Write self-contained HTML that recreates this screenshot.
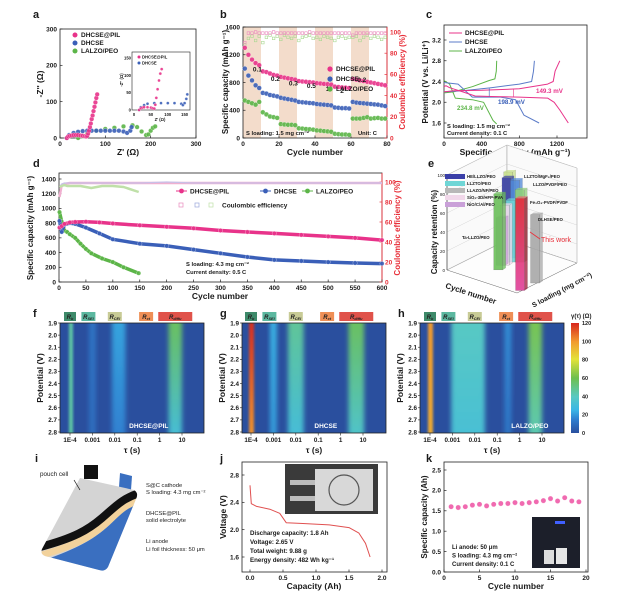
<!DOCTYPE html>
<html><head><meta charset="utf-8">
<style>
html,body{margin:0;padding:0;background:#fff;}
svg{display:block;font-family:"Liberation Sans",Arial,sans-serif;}
</style></head>
<body>
<svg id="fig" width="626" height="595" viewBox="0 0 626 595">
<defs>
<filter id="blur3" x="-50%" y="-20%" width="200%" height="140%"><feGaussianBlur stdDeviation="2.5"/></filter>
<filter id="blur1" x="-50%" y="-20%" width="200%" height="140%"><feGaussianBlur stdDeviation="1.2"/></filter>
<clipPath id="clipF"><rect x="60" y="323" width="144" height="110"/></clipPath>
<clipPath id="clipG"><rect x="242" y="323" width="142" height="110"/></clipPath>
<clipPath id="clipH"><rect x="420" y="323" width="144" height="110"/></clipPath>
<clipPath id="clipBody"><path d="M80,478 L134,490 Q139,493 136,499 L108,567 Q105,572 99,570 L45,556 Q40,554 42,549 Z"/></clipPath>
<linearGradient id="cbar" x1="0" y1="1" x2="0" y2="0">
<stop offset="0" stop-color="#2a4f9e"/><stop offset="0.125" stop-color="#2f7fd0"/><stop offset="0.21" stop-color="#3bb6e6"/><stop offset="0.33" stop-color="#58c9c2"/><stop offset="0.5" stop-color="#6ebf4e"/><stop offset="0.67" stop-color="#e3e23a"/><stop offset="0.83" stop-color="#f29a2e"/><stop offset="1" stop-color="#d7261e"/>
</linearGradient>
<linearGradient id="thisWork" x1="0" y1="0" x2="0" y2="1"><stop offset="0" stop-color="#e8263a"/><stop offset="1" stop-color="#e0409a"/></linearGradient>
</defs>
</svg>
<script>
// ---------- DATA ----------
// panel a (Nyquist)
const aPilRe = [15,18,22,26,30,35,40,45,50,55,58,60,62,64,66,68,70,72,74,76,78,80,82];
const aPilIm = [0,4,6,7,8,8,8,7,6,5,4,6,12,20,30,40,52,62,74,86,98,110,120];
const aDhRe = [15,20,30,40,50,60,70,80,90,100,110,120,130,140,148,155,158];
const aDhIm = [0,8,14,17,19,20,20,20,20,20,20,20,20,18,14,20,30];
const aLaRe = [40,50,60,80,100,120,140,160,170,180,190,195,200,205,210];
const aLaIm = [0,5,12,20,25,28,32,35,30,18,8,10,20,28,32];
const aInPilRe = [15,20,25,30,40,50,55,60,63,66,70,74,78,82];
const aInPilIm = [0,5,7,8,8,7,5,4,15,35,60,85,105,118];
const aInDhRe = [15,20,30,40,60,80,100,120,140,145,150,155,158];
const aInDhIm = [0,8,14,18,20,20,20,20,18,14,20,32,45];
const aTicks = [0,100,200,300];
const aInTicksX = [0,50,100,150];
const aInTicksY = [0,50,100,150];
// panel b (rate) - every other cycle
const bCycles = [1,3,5,7,9,11,13,15,17,19,21,23,25,27,29,31,33,35,37,39,41,43,45,47,49,51,53,55,57,59,61,63,65,67,69,71,73,75,77,79];
const bPil = [1300,1200,1130,1080,1050,960,950,930,910,900,880,870,860,850,840,820,815,810,805,800,790,785,780,775,770,740,735,730,725,720,850,840,830,820,810,800,790,780,770,760];
const bDh = [1000,900,830,760,720,650,640,620,610,600,580,570,560,550,540,520,515,510,505,500,490,485,480,475,470,440,435,430,430,425,520,510,505,500,495,490,485,480,470,460];
const bLa = [540,520,500,480,520,370,340,310,300,290,200,195,190,190,185,140,135,130,125,120,110,105,100,95,90,60,55,50,50,45,280,280,280,290,300,280,285,290,280,280];
const bCePil = [90,99,99,100,99,99,99,99,100,99,99,99,99,99,99,99,99,99,100,99,99,99,99,99,99,99,99,99,99,99,97,99,99,99,99,99,99,99,99,99];
const bCeLa = [88,94,96,92,96,90,95,97,94,96,93,97,95,94,96,92,95,96,97,94,95,93,96,95,94,92,95,96,94,95,95,96,92,95,97,94,96,95,93,95];
const bRates = ['0.1','0.2','0.3','0.5','1','2','0.2'];
const bRateCyc = [8,18,28,38,47,55,66];
const bRateCap = [960,820,760,720,680,650,810];
const bShade = [0,20,40,60];
const bTicksX = [0,20,40,60,80];
const bTicksY = [0,400,800,1200,1600];
const bTicksYr = [0,20,40,60,80,100];
// panel c (voltage profiles)
const cPilDisQ = [0,20,60,200,330,500,800,1100,1170,1230,1320];
const cPilDisV = [2.3,2.32,2.28,2.2,2.12,2.11,2.1,2.08,2.0,1.85,1.6];
const cPilChQ = [0,100,400,800,1100,1160,1180,1230];
const cPilChV = [2.2,2.22,2.23,2.26,2.35,2.4,2.6,2.8];
const cDhDisQ = [0,150,300,600,760,850,1010];
const cDhDisV = [2.38,2.35,2.1,2.1,2.05,1.75,1.6];
const cDhChQ = [0,200,500,800,930,950,960];
const cDhChV = [2.2,2.22,2.28,2.35,2.4,2.6,2.8];
const cLaDisQ = [0,60,120,300,420,520,560];
const cLaDisV = [2.42,2.35,2.08,2.05,2.0,1.65,1.58];
const cLaChQ = [0,100,300,480,540,555,560];
const cLaChV = [2.18,2.2,2.3,2.42,2.45,2.6,2.8];
const cTicksX = [0,400,800,1200];
const cTicksY = [1.6,2.0,2.4,2.8,3.2];
// panel d (long cycling)
const dCyc = [1,5,10,20,30,50,75,100,150,200,250,300,350,400,450,500,550,600];
const dPil = [740,760,790,810,815,820,810,795,770,750,730,700,680,660,640,620,600,570];
const dDh = [830,680,780,800,790,740,660,580,520,490,440,390,340,300,285,270,258,250];
const dCePil = [85,97,98,99,99,99,99,99,99,99,99,99,99,99,99,99,99,99];
const dCeDh = [95,98,99,99,99,99,99,99,99,100,99,99,99,99,99,99,99,99];
const dLaCyc = [1,5,10,15,20,30,40,50,60,80,100,120,148];
const dLa = [950,820,700,680,650,600,520,450,390,320,270,200,120];
const dCeLa = [95,96,97,96,96,96,96,95,94,96,96,95,90];
const dTicksX = [0,50,100,150,200,250,300,350,400,450,500,550,600];
const dTicksY = [0,200,400,600,800,1000,1200,1400];
const dTicksYr = [0,20,40,60,80,100];
// panel e (3D bars)
const eNames = ['Ta-LLZO/PEO','NiO/C/Al/PEO','SiO2-3D/HFP-PVA','LLZTO/PEO','HE/LLZO/PEO','LLZO/PVDF/PEO','LLZTO/MgF2/PEO','Fe3O4-PVDF/PVDF','DLHSE/PEO','This work'];
const eCycles = [672,744,703,708,900,744,984,612,20,20];
const eLoading = [3.4,4.5,4.8,5.8,7.0,6.9,8.1,6.4,3.2,0.7];
const eRetention = [80,50,63,65,81,82,82,76,72,97];
const eTicks = [0,20,40,60,80,100];
// panels f,g,h (DRT heatmaps): band centre tau, width (decades), value at 1.9 V and 2.8 V
const fTau = [1.1e-4,1e-3,1.5e-2,5]; const fWid = [0.18,0.3,0.6,0.6]; const fTop = [45,12,22,58]; const fBot = [45,10,15,30];
const gTau = [1.05e-4,1e-3,1e-2,5]; const gWid = [0.22,0.3,0.7,0.7]; const gTop = [120,25,48,58]; const gBot = [100,20,30,35];
const hTau = [1.05e-4,5e-3,0.3,5]; const hWid = [0.22,1.5,0.3,0.6]; const hTop = [100,40,18,62]; const hBot = [95,32,12,42];
const hmTicksY = [1.9,2.0,2.1,2.2,2.3,2.4,2.5,2.6,2.7,2.8];
const hmTicksX = [1e-4,1e-3,1e-2,0.1,1,10];
const hmTickLabels = ['1E-4','0.001','0.01','0.1','1','10'];
const cbTicks = [0,20,40,60,80,100,120];
// panel j
const jCap = [0,0.02,0.1,0.3,0.45,0.55,0.8,1.2,1.5,1.65,1.75,1.82];
const jVolt = [2.65,2.38,2.34,2.3,2.24,2.1,2.09,2.07,2.03,1.95,1.8,1.6];
const jTicksX = [0,0.5,1.0,1.5,2.0];
const jTicksY = [1.6,2.0,2.4,2.8];
// panel k
const kCycle = [1,2,3,4,5,6,7,8,9,10,11,12,13,14,15,16,17,18,19];
const kCap = [1.6,1.58,1.6,1.64,1.66,1.62,1.66,1.68,1.68,1.7,1.68,1.7,1.72,1.75,1.8,1.74,1.82,1.74,1.72];
const kTicksX = [0,5,10,15,20];
const kTicksY = [0,0.5,1.0,1.5,2.0,2.5];

// ---------- HELPERS ----------
const NS = 'http://www.w3.org/2000/svg';
const svg = document.getElementById('fig');
const PINK = '#e8338a', BLUE = '#3a5fb8', GREEN = '#5cb548', RED = '#e8303a';
function mk(tag, attrs, name, parent) {
  const e = document.createElementNS(NS, tag);
  for (const k in attrs) e.setAttribute(k, attrs[k]);
  
  
  (parent || svg).appendChild(e);
  return e;
}
function txt(x, y, s, size, name, o) {
  o = o || {};
  const a = {x: x, y: y, 'font-size': size, 'font-weight': o.w || 'bold', fill: o.fill || '#1a1a1a', 'text-anchor': o.anchor || 'middle'};
  if (o.rot) a.transform = 'rotate(-90 ' + x + ' ' + y + ')';
  if (o.style) a['font-style'] = o.style;
  const e = mk('text', a, name, o.parent);
  e.textContent = s;
  return e;
}
function lin(d0, d1, r0, r1) { return v => r0 + (v - d0) / (d1 - d0) * (r1 - r0); }
function frame(x0, y0, x1, y1, name) {
  mk('rect', {x: x0, y: y0, width: x1 - x0, height: y1 - y0, fill: 'none', stroke: '#222', 'stroke-width': 0.8}, name);
}
function xTicks(ticks, X, y, name, fs, labels) {
  ticks.forEach((t, i) => {
    mk('line', {x1: X(t), x2: X(t), y1: y, y2: y - 2.5, stroke: '#222', 'stroke-width': 0.7}, name + '-tick');
    txt(X(t), y + 8, labels ? labels[i] : String(t), fs || 6.5, name + '-label');
  });
}
function yTicks(ticks, Y, x, name, fs, dir, fill, fmt) {
  ticks.forEach(t => {
    mk('line', {x1: x, x2: x + (dir || 1) * 2.5, y1: Y(t), y2: Y(t), stroke: fill || '#222', 'stroke-width': 0.7}, name + '-tick');
    txt(x - (dir || 1) * 3, Y(t) + 2.3, fmt ? fmt(t) : String(t), fs || 6.5, name + '-label', {anchor: (dir || 1) > 0 ? 'end' : 'start', fill: fill});
  });
}
function polyline(xs, ys, X, Y, color, w, name) {
  const pts = xs.map((v, i) => X(v).toFixed(1) + ',' + Y(ys[i]).toFixed(1)).join(' ');
  return mk('polyline', {points: pts, fill: 'none', stroke: color, 'stroke-width': w, 'stroke-linejoin': 'round'}, name);
}
function dots(xs, ys, X, Y, color, r, name) {
  xs.forEach((v, i) => {
    mk('circle', {cx: X(v).toFixed(1), cy: Y(ys[i]).toFixed(1), r: r, fill: color, stroke: '#fff', 'stroke-width': 0.3, opacity: 0.9}, name);
  });
}
function squares(xs, ys, X, Y, color, s, name) {
  xs.forEach((v, i) => {
    mk('rect', {x: (X(v) - s / 2).toFixed(1), y: (Y(ys[i]) - s / 2).toFixed(1), width: s, height: s, fill: 'none', stroke: color, 'stroke-width': 0.6}, name);
  });
}
function letter(x, y, s) { txt(x, y, s, 11, 'panel-letter-' + s, {anchor: 'start'}); }

// ---------- PANEL A ----------
letter(33, 18, 'a');
{
  const X = lin(0, 300, 60, 196), Y = lin(0, 300, 138, 29);
  frame(60, 29, 196, 138, 'panel-a-frame');
  xTicks(aTicks, X, 138, 'a-x');
  yTicks(aTicks, Y, 60, 'a-y');
  txt(128, 155, "Z' (Ω)", 8.5, 'a-x-title');
  txt(43, 84, "-Z'' (Ω)", 8.5, 'a-y-title', {rot: true});
  dots(aLaRe, aLaIm, X, Y, GREEN, 2.3, 'a-lalzo-point');
  dots(aDhRe, aDhIm, X, Y, BLUE, 2.3, 'a-dhcse-point');
  dots(aPilRe, aPilIm, X, Y, PINK, 2.3, 'a-pil-point');
  [['DHCSE@PIL', PINK, 37], ['DHCSE', BLUE, 45], ['LALZO/PEO', GREEN, 53]].forEach(l => {
    mk('circle', {cx: 75, cy: l[2] - 2, r: 2.5, fill: l[1]}, 'a-legend-marker');
    txt(81, l[2], l[0], 6.5, 'a-legend-entry', {anchor: 'start'});
  });
  // inset
  const IX = lin(0, 160, 134, 188), IY = lin(0, 150, 110, 58);
  mk('rect', {x: 132, y: 52, width: 58, height: 58, fill: '#fff', stroke: '#222', 'stroke-width': 0.6}, 'a-inset-frame');
  aInTicksX.forEach(t => txt(IX(t), 116, String(t), 4.2, 'a-inset-x-label'));
  aInTicksY.forEach(t => txt(131, IY(t) + 1.5, String(t), 4.2, 'a-inset-y-label', {anchor: 'end'}));
  txt(160, 121, "Z' (Ω)", 4.2, 'a-inset-x-title');
  txt(123, 80, "-Z'' (Ω)", 4.2, 'a-inset-y-title', {rot: true});
  dots(aInDhRe, aInDhIm, IX, IY, BLUE, 1.5, 'a-inset-dhcse-point');
  dots(aInPilRe, aInPilIm, IX, IY, PINK, 1.5, 'a-inset-pil-point');
  mk('circle', {cx: 139, cy: 57, r: 1.5, fill: PINK}, 'a-inset-legend-marker');
  txt(142, 58.5, 'DHCSE@PIL', 4.2, 'a-inset-legend-entry', {anchor: 'start'});
  mk('circle', {cx: 139, cy: 63, r: 1.5, fill: BLUE}, 'a-inset-legend-marker');
  txt(142, 64.5, 'DHCSE', 4.2, 'a-inset-legend-entry', {anchor: 'start'});
}

// ---------- PANEL B ----------
letter(220, 18, 'b');
{
  const X = lin(0, 80, 243, 387), Y = lin(0, 1600, 138, 27), YR = lin(0, 100, 138, 32);
  bShade.forEach(s => mk('rect', {x: X(s), y: 27, width: X(s + 10) - X(s), height: 111, fill: '#f3dccb'}, 'b-rate-shade'));
  frame(243, 27, 387, 138, 'panel-b-frame');
  mk('line', {x1: 387, x2: 387, y1: 27, y2: 138, stroke: RED, 'stroke-width': 0.9}, 'b-right-axis');
  xTicks(bTicksX, X, 138, 'b-x');
  yTicks(bTicksY, Y, 243, 'b-y');
  yTicks(bTicksYr, YR, 387, 'b-yr', 6.5, -1, RED);
  txt(315, 155, 'Cycle number', 8.5, 'b-x-title');
  txt(228, 82, 'Specific capacity (mAh g⁻¹)', 8, 'b-y-title', {rot: true});
  txt(405, 82, 'Coulombic efficiency (%)', 8, 'b-yr-title', {rot: true, fill: RED});
  squares(bCycles, bCeLa, X, YR, '#a8d890', 2.6, 'b-ce-lalzo');
  squares(bCycles, bCePil, X, YR, '#e98abd', 2.6, 'b-ce-pil');
  dots(bCycles, bLa, X, Y, GREEN, 2.4, 'b-lalzo-point');
  dots(bCycles, bDh, X, Y, BLUE, 2.4, 'b-dhcse-point');
  dots(bCycles, bPil, X, Y, PINK, 2.4, 'b-pil-point');
  bRates.forEach((r, i) => txt(X(bRateCyc[i]), Y(bRateCap[i]), r, 6.5, 'b-rate-label'));
  [['DHCSE@PIL', PINK, 71], ['DHCSE', BLUE, 81], ['LALZO/PEO', GREEN, 91]].forEach(l => {
    mk('circle', {cx: 330, cy: l[2] - 2, r: 2.6, fill: l[1]}, 'b-legend-marker');
    txt(336, l[2], l[0], 6.5, 'b-legend-entry', {anchor: 'start'});
  });
  txt(246, 135, 'S loading: 1.5 mg cm⁻²', 5.8, 'b-annotation', {anchor: 'start'});
  txt(358, 135, 'Unit: C', 5.8, 'b-unit-annotation', {anchor: 'start'});
}

// ---------- PANEL C ----------
letter(426, 18, 'c');
{
  const X = lin(0, 1200, 444, 557), Y = lin(1.6, 3.2, 123, 40);
  frame(444, 25, 587, 138, 'panel-c-frame');
  xTicks(cTicksX, X, 138, 'c-x');
  yTicks(cTicksY, Y, 444, 'c-y', 6.5, 1, null, t => t.toFixed(1));
  txt(515, 155, 'Specific capacity (mAh g⁻¹)', 8.5, 'c-x-title');
  txt(428, 82, 'Potential (V vs. Li/Li⁺)', 8, 'c-y-title', {rot: true});
  polyline(cLaDisQ, cLaDisV, X, Y, GREEN, 1, 'c-lalzo-discharge');
  polyline(cLaChQ, cLaChV, X, Y, GREEN, 1, 'c-lalzo-charge');
  polyline(cDhDisQ, cDhDisV, X, Y, '#5b7bc8', 1, 'c-dhcse-discharge');
  polyline(cDhChQ, cDhChV, X, Y, '#5b7bc8', 1, 'c-dhcse-charge');
  polyline(cPilDisQ, cPilDisV, X, Y, PINK, 1, 'c-pil-discharge');
  polyline(cPilChQ, cPilChV, X, Y, PINK, 1, 'c-pil-charge');
  mk('line', {x1: X(480), x2: X(480), y1: Y(2.27), y2: Y(2.11), stroke: BLUE, 'stroke-width': 0.6}, 'c-dhcse-gap-arrow');
  mk('line', {x1: X(740), x2: X(740), y1: Y(2.25), y2: Y(2.1), stroke: PINK, 'stroke-width': 0.6}, 'c-pil-gap-arrow');
  [['DHCSE@PIL', PINK, 35], ['DHCSE', '#5b7bc8', 44], ['LALZO/PEO', GREEN, 53]].forEach(l => {
    mk('line', {x1: 449, x2: 462, y1: l[2] - 2, y2: l[2] - 2, stroke: l[1], 'stroke-width': 1}, 'c-legend-line');
    txt(465, l[2], l[0], 6.5, 'c-legend-entry', {anchor: 'start'});
  });
  txt(536, 93, '149.3 mV', 6.2, 'c-pil-gap-label', {anchor: 'start', fill: PINK});
  txt(498, 104, '198.9 mV', 6.2, 'c-dhcse-gap-label', {anchor: 'start', fill: BLUE});
  txt(457, 110, '234.8 mV', 6.2, 'c-lalzo-gap-label', {anchor: 'start', fill: GREEN});
  txt(447, 128, 'S loading: 1.5 mg cm⁻²', 5.8, 'c-annotation', {anchor: 'start'});
  txt(447, 135, 'Current density: 0.1 C', 5.8, 'c-annotation', {anchor: 'start'});
}

// ---------- PANEL D ----------
letter(33, 167, 'd');
{
  const X = lin(0, 600, 59, 382), Y = lin(0, 1400, 282, 179), YR = lin(0, 100, 282, 182);
  frame(59, 173, 382, 282, 'panel-d-frame');
  mk('line', {x1: 382, x2: 382, y1: 173, y2: 282, stroke: RED, 'stroke-width': 0.9}, 'd-right-axis');
  xTicks(dTicksX, X, 282, 'd-x');
  yTicks(dTicksY, Y, 59, 'd-y');
  yTicks(dTicksYr, YR, 382, 'd-yr', 6.5, -1, RED);
  txt(220, 299, 'Cycle number', 8.5, 'd-x-title');
  txt(33, 228, 'Specific capacity (mAh g⁻¹)', 8, 'd-y-title', {rot: true});
  txt(400, 228, 'Coulombic efficiency (%)', 8, 'd-yr-title', {rot: true, fill: RED});
  polyline(dCyc, dCePil, X, YR, '#f0b0d0', 2.5, 'd-ce-pil');
  polyline(dCyc, dCeDh, X, YR, '#c8c0e8', 1.2, 'd-ce-dhcse');
  polyline(dLaCyc, dCeLa, X, YR, '#bfe0a8', 2.5, 'd-ce-lalzo');
  polyline(dLaCyc, dLa, X, Y, GREEN, 3.5, 'd-lalzo-line');
  dots(dLaCyc, dLa, X, Y, GREEN, 2.2, 'd-lalzo-point');
  polyline(dCyc, dDh, X, Y, BLUE, 3.5, 'd-dhcse-line');
  dots(dCyc, dDh, X, Y, BLUE, 2.2, 'd-dhcse-point');
  polyline(dCyc, dPil, X, Y, PINK, 3.5, 'd-pil-line');
  dots(dCyc, dPil, X, Y, PINK, 2.2, 'd-pil-point');
  [['DHCSE@PIL', PINK, 176], ['DHCSE', BLUE, 260], ['LALZO/PEO', GREEN, 302]].forEach(l => {
    mk('line', {x1: l[2], x2: l[2] + 11, y1: 191, y2: 191, stroke: l[1], 'stroke-width': 1}, 'd-legend-line');
    mk('circle', {cx: l[2] + 5.5, cy: 191, r: 2.4, fill: l[1]}, 'd-legend-marker');
    txt(l[2] + 14, 193.5, l[0], 6.5, 'd-legend-entry', {anchor: 'start'});
  });
  [['#e98abd', 181], ['#9aa6dc', 197], ['#bfe0a8', 211]].forEach(l => {
    mk('rect', {x: l[1] - 2, y: 203, width: 4, height: 4, fill: 'none', stroke: l[0], 'stroke-width': 0.7}, 'd-ce-legend-marker');
  });
  txt(222, 207.5, 'Coulombic efficiency', 6.5, 'd-ce-legend-entry', {anchor: 'start'});
  txt(186, 266, 'S loading: 4.3 mg cm⁻²', 5.8, 'd-annotation', {anchor: 'start'});
  txt(186, 274, 'Current density: 0.5 C', 5.8, 'd-annotation', {anchor: 'start'});
}

// ---------- PANEL E ----------
letter(428, 167, 'e');
{
  const F = [517, 293], L = [447, 270], R = [577, 263];
  const P = (c, l, r) => [F[0] + (L[0] - F[0]) * c / 1200 + (R[0] - F[0]) * l / 10, F[1] + (L[1] - F[1]) * c / 1200 + (R[1] - F[1]) * l / 10 - 0.95 * r];
  const B = P(1200, 10, 0), Bt = P(1200, 10, 100), Lt = P(1200, 0, 100), Rt = P(0, 10, 100);
  mk('polygon', {points: [L, B, Bt, Lt].map(p => p.join(',')).join(' '), fill: '#fafafa', stroke: '#999', 'stroke-width': 0.5}, 'e-left-wall');
  mk('polygon', {points: [B, R, Rt, Bt].map(p => p.join(',')).join(' '), fill: '#fafafa', stroke: '#999', 'stroke-width': 0.5}, 'e-right-wall');
  mk('polygon', {points: [L, B, R, F].map(p => p.join(',')).join(' '), fill: '#fdfdfd', stroke: '#666', 'stroke-width': 0.5}, 'e-floor');
  eTicks.forEach(t => {
    const a = P(1200, 0, t), b = P(1200, 10, t), c = P(0, 10, t);
    mk('polyline', {points: [a, b, c].map(p => p.join(',')).join(' '), fill: 'none', stroke: '#ccc', 'stroke-width': 0.4}, 'e-gridline');
    txt(a[0] - 2, a[1] + 2, String(t), 4.5, 'e-y-label', {anchor: 'end', w: 'normal'});
  });
  mk('line', {x1: L[0], y1: L[1], x2: Lt[0], y2: Lt[1], stroke: '#333', 'stroke-width': 0.6}, 'e-y-axis');
  txt(437, 232, 'Capacity retention (%)', 8, 'e-y-title', {rot: true});
  txt(470, 296, 'Cycle number', 8, 'e-x-title', {w: 'bold'}).setAttribute('transform', 'rotate(18 470 296)');
  txt(563, 292, 'S loading (mg cm⁻²)', 7, 'e-z-title').setAttribute('transform', 'rotate(-28 563 292)');
  const cols = ['#6bbf5a', '#c9a0d8', '#f1d8ea', '#6fd6d6', '#3a3fa8', '#4f87d8', '#c8e08a', '#8fcf7a', '#a8a8a8', 'url(#thisWork)'];
  const order = eNames.map((n, i) => i).sort((i, j) => P(eCycles[i], eLoading[i], 0)[1] - P(eCycles[j], eLoading[j], 0)[1]);
  order.forEach(i => {
    const b = P(eCycles[i], eLoading[i], 0), t = P(eCycles[i], eLoading[i], eRetention[i]);
    const w = 9, x = b[0] - 4.5;
    mk('polygon', {points: `${x + w},${b[1]} ${x + w + 3},${b[1] - 2} ${x + w + 3},${t[1] - 2} ${x + w},${t[1]}`, fill: i === 9 ? '#a01838' : cols[i], opacity: 0.75, stroke: '#666', 'stroke-width': 0.2}, 'e-bar-side');
    mk('rect', {x: x, y: t[1], width: w, height: b[1] - t[1], fill: cols[i], opacity: 0.9, stroke: '#555', 'stroke-width': 0.2}, 'e-bar');
    mk('polygon', {points: `${x},${t[1]} ${x + w},${t[1]} ${x + w + 3},${t[1] - 2} ${x + 3},${t[1] - 2}`, fill: i === 9 ? '#f06070' : cols[i], opacity: 0.7}, 'e-bar-top');
  });
  const legIdx = [4, 3, 2, 1];
  const legNames = ['HE/LLZO/PEO', 'LLZTO/PEO', 'LLAZO/NF/PEO', 'SiO₂-3D/HFP-PVA', 'NiO/C/Al/PEO'];
  const legCols = ['#3a3fa8', '#6fd6d6', '#b8b8b8', '#f1d8ea', '#c9a0d8'];
  legNames.forEach((n, i) => {
    mk('rect', {x: 445, y: 174 + i * 7, width: 20, height: 5, fill: legCols[i]}, 'e-legend-swatch');
    txt(467, 178 + i * 7, n, 4.3, 'e-legend-entry', {anchor: 'start'});
  });
  txt(524, 178, 'LLZTO/MgF₂/PEO', 4.3, 'e-callout', {anchor: 'start'});
  txt(533, 186, 'LLZO/PVDF/PEO', 4.3, 'e-callout', {anchor: 'start'});
  txt(530, 204, 'Fe₃O₄-PVDF/PVDF', 4.3, 'e-callout', {anchor: 'start'});
  txt(538, 221, 'DLHSE/PEO', 4.3, 'e-callout', {anchor: 'start'});
  txt(462, 239, 'Ta-LLZO/PEO', 4.3, 'e-callout', {anchor: 'start'});
  txt(541, 242, 'This work', 7, 'e-this-work-label', {anchor: 'start', fill: RED, w: 'normal'});
  mk('line', {x1: 530, y1: 232, x2: 540, y2: 239, stroke: RED, 'stroke-width': 0.8}, 'e-this-work-arrow');
}

// ---------- PANELS F,G,H ----------
const cmStops = [[0, [42, 79, 158]], [15, [47, 127, 208]], [25, [59, 182, 230]], [40, [88, 201, 194]], [60, [110, 191, 78]], [80, [227, 226, 58]], [100, [242, 154, 46]], [120, [215, 38, 30]]];
function cmap(v) {
  for (let i = 1; i < cmStops.length; i++) {
    if (v <= cmStops[i][0]) {
      const a = cmStops[i - 1], b = cmStops[i], f = (v - a[0]) / (b[0] - a[0]);
      return 'rgb(' + a[1].map((c, k) => Math.round(c + (b[1][k] - c) * f)).join(',') + ')';
    }
  }
  return 'rgb(215,38,30)';
}
function heatmap(x0, off, clip, tau, wid, top, bot, label, pname) {
  const x1 = x0 + 144;
  const X = t => x0 + off + (Math.log10(t) + 4) * 22.4;
  const Y = lin(1.9, 2.8, 323, 432);
  mk('rect', {x: x0, y: 323, width: 144, height: 110, fill: '#2a4f9e'}, pname + '-background');
  const g = mk('g', {'clip-path': 'url(#' + clip + ')'}, pname + '-bands');
  tau.forEach((t, i) => {
    const gid = pname + 'grad' + i;
    const lg = mk('linearGradient', {id: gid, x1: 0, y1: 0, x2: 0, y2: 1}, 'band-gradient', svg.querySelector('defs'));
    mk('stop', {offset: 0, 'stop-color': cmap(top[i])}, 'gradient-stop', lg);
    mk('stop', {offset: 1, 'stop-color': cmap(bot[i])}, 'gradient-stop', lg);
    const cx = X(t), w = Math.max(3, wid[i] * 22.4);
    mk('rect', {x: cx - w / 2, y: 315, width: w, height: 125, fill: 'url(#' + gid + ')', filter: w > 6 ? 'url(#blur3)' : 'url(#blur1)'}, pname + '-band', g);
  });
  frame(x0, 323, x1, 433, pname + '-frame');
  hmTicksY.forEach(v => {
    mk('line', {x1: x0, x2: x0 - 2, y1: Y(v), y2: Y(v), stroke: '#222', 'stroke-width': 0.6}, pname + '-y-tick');
    txt(x0 - 3, Y(v) + 2.3, v.toFixed(1), 6.3, pname + '-y-label', {anchor: 'end'});
  });
  hmTicksX.forEach((t, i) => {
    mk('line', {x1: X(t), x2: X(t), y1: 433, y2: 435.5, stroke: '#222', 'stroke-width': 0.6}, pname + '-x-tick');
    txt(X(t), 442, hmTickLabels[i], 6.3, pname + '-x-label');
  });
  txt(x0 + 72, 453, 'τ (s)', 8.5, pname + '-x-title', {w: 'bold'});
  txt(x0 - 17, 378, 'Potential (V)', 8.5, pname + '-y-title', {rot: true});
  txt(X(tau[2]) + (pname === 'panel-f' ? 30 : pname === 'panel-g' ? 30 : 22), 428, label, 6.5, pname + '-sample-label', {fill: '#fff'});
  const rl = [['R', 'b', '#3e8a6a', 1e-4, 12], ['R', 'SEI', '#5cb8a0', 1e-3, 14], ['R', 'CEI', '#c8cb96', 1e-2, 14], ['R', 'ct', '#ef8f56', 0.25, 14], ['R', 'diffu', '#e0524a', 5, 34]];
  rl.forEach(r => {
    const cx = X(r[3]) + (r[3] === 1e-3 ? -4 : 0) + (r[3] === 0.25 ? 0 : 0);
    mk('rect', {x: cx - r[4] / 2, y: 312, width: r[4], height: 9, fill: r[2]}, pname + '-region-tag');
    const tEl = txt(cx, 319, r[0], 6, pname + '-region-label', {style: 'italic', fill: '#222'});
    const ts = mk('tspan', {'font-size': 3.8, dy: 1}, 'subscript', tEl);
    ts.textContent = r[1];
  });
}
letter(33, 317, 'f');
heatmap(60, 10, 'clipF', fTau, fWid, fTop, fBot, 'DHCSE@PIL', 'panel-f');
letter(220, 317, 'g');
heatmap(242, 9, 'clipG', gTau, gWid, gTop, gBot, 'DHCSE', 'panel-g');
letter(398, 317, 'h');
heatmap(420, 10, 'clipH', hTau, hWid, hTop, hBot, 'LALZO/PEO', 'panel-h');
{
  mk('rect', {x: 571, y: 323, width: 8, height: 110, fill: 'url(#cbar)'}, 'colorbar');
  const Y = lin(0, 120, 433, 323);
  cbTicks.forEach(t => txt(582, Y(t) + 2, String(t), 5.5, 'colorbar-label', {anchor: 'start'}));
  txt(571, 318, 'γ(τ) (Ω)', 6, 'colorbar-title', {anchor: 'start'});
}

// ---------- PANEL I ----------
letter(35, 462, 'i');
{
  mk('rect', {x: 84, y: 465, width: 14, height: 14, fill: '#111'}, 'i-black-tab');
  mk('polygon', {points: '120,473 132,476 131,490 119,487', fill: '#3a6fc0'}, 'i-blue-tab');
  mk('path', {d: 'M80,478 L134,490 Q139,493 136,499 L108,567 Q105,572 99,570 L45,556 Q40,554 42,549 Z', fill: '#d4d4d4'}, 'i-pouch-body');
  const g = mk('g', {'clip-path': 'url(#clipBody)'}, 'i-layers');
  mk('path', {d: 'M140,503 C122,508 118,518 106,528 C92,540 78,548 45,560 L100,580 L150,580 Z', fill: '#3a6fc0'}, 'i-li-anode', g);
  mk('path', {d: 'M140,500 C122,505 116,515 104,525 C90,537 76,545 42,555', fill: 'none', stroke: '#f2d29c', 'stroke-width': 7}, 'i-electrolyte-layer', g);
  mk('path', {d: 'M140,493 C122,498 114,508 102,518 C88,530 74,538 40,547', fill: 'none', stroke: '#111', 'stroke-width': 8}, 'i-cathode-layer', g);
  txt(40, 476, 'pouch cell', 6.3, 'i-label-pouch', {anchor: 'start', w: 'normal'});
  mk('line', {x1: 74, y1: 480, x2: 80, y2: 490, stroke: '#111', 'stroke-width': 0.7}, 'i-arrow');
  txt(146, 487, 'S@C cathode', 5.8, 'i-label-cathode', {anchor: 'start', w: 'normal'});
  txt(146, 494, 'S loading: 4.3 mg cm⁻²', 5.8, 'i-label-loading', {anchor: 'start', w: 'normal'});
  txt(146, 515, 'DHCSE@PIL', 5.8, 'i-label-electrolyte', {anchor: 'start', w: 'normal'});
  txt(146, 522, 'solid electrolyte', 5.8, 'i-label-electrolyte2', {anchor: 'start', w: 'normal'});
  txt(146, 543, 'Li anode', 5.8, 'i-label-anode', {anchor: 'start', w: 'normal'});
  txt(146, 551, 'Li foil thickness: 50 μm', 5.8, 'i-label-foil', {anchor: 'start', w: 'normal'});
}

// ---------- PANEL J ----------
letter(220, 462, 'j');
{
  const X = lin(0, 2, 250, 382), Y = lin(1.6, 2.8, 557, 475);
  frame(242, 462, 387, 572, 'panel-j-frame');
  xTicks(jTicksX, X, 572, 'j-x', 6.5, jTicksX.map(t => t.toFixed(1)));
  yTicks(jTicksY, Y, 242, 'j-y', 6.5, 1, null, t => t.toFixed(1));
  txt(314, 589, 'Capacity (Ah)', 8.5, 'j-x-title');
  txt(226, 517, 'Voltage (V)', 8.5, 'j-y-title', {rot: true});
  mk('rect', {x: 285, y: 464, width: 93, height: 50, fill: '#3a3a3a'}, 'j-inset-photo');
  mk('rect', {x: 290, y: 480, width: 28, height: 5, fill: '#bbb'}, 'j-photo-tab');
  mk('rect', {x: 290, y: 496, width: 28, height: 5, fill: '#bbb'}, 'j-photo-tab');
  mk('rect', {x: 315, y: 469, width: 58, height: 42, fill: '#d8d8d8'}, 'j-photo-cell');
  mk('circle', {cx: 344, cy: 490, r: 15, fill: 'none', stroke: '#555', 'stroke-width': 1.2}, 'j-photo-logo');
  polyline(jCap, jVolt, X, Y, '#e05050', 1, 'j-discharge-curve');
  ['Discharge capacity: 1.8 Ah', 'Voltage: 2.65 V', 'Total weight: 9.88 g', 'Energy density: 482 Wh kg⁻¹'].forEach((s, i) => {
    txt(250, 535 + i * 9, s, 6.2, 'j-annotation', {anchor: 'start'});
  });
}

// ---------- PANEL K ----------
letter(426, 462, 'k');
{
  const X = lin(0, 20, 444, 586), Y = lin(0, 2.5, 572, 470);
  frame(444, 462, 588, 572, 'panel-k-frame');
  xTicks(kTicksX, X, 572, 'k-x');
  yTicks(kTicksY, Y, 444, 'k-y', 6.5, 1, null, t => t.toFixed(1));
  txt(516, 589, 'Cycle number', 8.5, 'k-x-title');
  txt(427, 517, 'Specific capacity (Ah)', 8, 'k-y-title', {rot: true});
  dots(kCycle, kCap, X, Y, '#ef5aa8', 2.6, 'k-capacity-point');
  mk('rect', {x: 532, y: 517, width: 48, height: 51, fill: '#1c1f2a'}, 'k-inset-photo');
  mk('rect', {x: 555, y: 521, width: 10, height: 3, fill: '#4060ff'}, 'k-photo-led');
  mk('rect', {x: 544, y: 550, width: 10, height: 14, fill: '#ddd'}, 'k-photo-cell');
  mk('rect', {x: 556, y: 548, width: 11, height: 16, fill: '#e6e6e6'}, 'k-photo-cell');
  ['Li anode: 50 μm', 'S loading: 4.3 mg cm⁻²', 'Current density: 0.1 C'].forEach((s, i) => {
    txt(452, 549 + i * 8.5, s, 6, 'k-annotation', {anchor: 'start'});
  });
}
</script>
</body></html>
